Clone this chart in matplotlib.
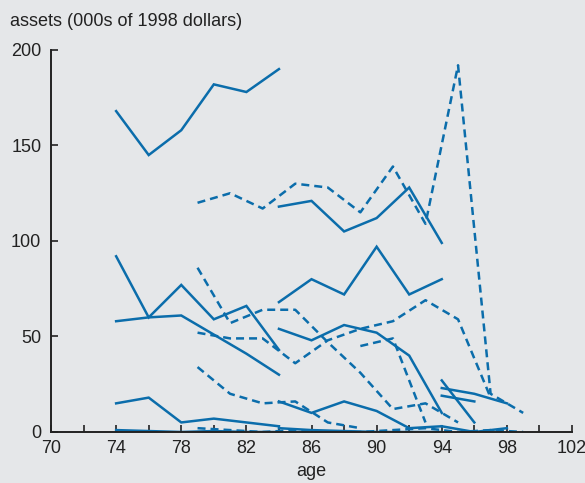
import matplotlib.pyplot as plt
import numpy as np

plt.rcParams['font.family'] = ['Liberation Sans', 'DejaVu Sans']

## Data
# solid lines: cohorts observed every two years at even ages
ages_74_84 = [74, 76, 78, 80, 82, 84]
ages_84_94 = [84, 86, 88, 90, 92, 94]
solid_a = [168, 145, 158, 182, 178, 190]
solid_b = [92, 60, 77, 59, 66, 43]
solid_c = [58, 60, 61, 51, 41, 30]
solid_d = [15, 18, 5, 7, 5, 3]
solid_e = [1, 0.5, 0, 0.5, 0, 0]
solid_f = [118, 121, 105, 112, 128, 99]
solid_g = [68, 80, 72, 97, 72, 80]
solid_h = [54, 48, 56, 52, 40, 10]
solid_i = [16, 10, 16, 11, 2, 3]
solid_j = [2, 1, 0.5, 0, 0, 0]
ages_94_98 = [94, 96, 98]
solid_k = [23, 20, 15]
solid_l = [3, 0, 2]
ages_94_96 = [94, 96]
solid_m = [19, 16]
solid_n = [27, 5]

# dashed lines: cohorts observed at odd ages
ages_79_99 = [79, 81, 83, 85, 87, 89, 91, 93, 95, 97, 99]
dashed_a = [120, 125, 117, 130, 128, 115, 139, 109, 192, 20, 10]
ages_79_97 = [79, 81, 83, 85, 87, 89, 91, 93, 95, 97]
dashed_b = [52, 49, 49, 36, 48, 54, 58, 69, 59, 18]
ages_79_95 = [79, 81, 83, 85, 87, 89, 91, 93, 95]
dashed_c = [86, 57, 64, 64, 47, 31, 12, 15, 5]
ages_79_89 = [79, 81, 83, 85, 87, 89]
dashed_d = [34, 20, 15, 16, 5, 2]
ages_89_93 = [89, 91, 93]
dashed_e = [45, 49, 5]
dashed_f = [2, 1, 0, 1, 0, 0, 1, 2, 0, 1, 0]

solid_series = [
    (ages_74_84, solid_a), (ages_74_84, solid_b), (ages_74_84, solid_c),
    (ages_74_84, solid_d), (ages_74_84, solid_e),
    (ages_84_94, solid_f), (ages_84_94, solid_g), (ages_84_94, solid_h),
    (ages_84_94, solid_i), (ages_84_94, solid_j),
    (ages_94_98, solid_k), (ages_94_98, solid_l),
    (ages_94_96, solid_m), (ages_94_96, solid_n),
]
dashed_series = [
    (ages_79_99, dashed_a), (ages_79_97, dashed_b), (ages_79_95, dashed_c),
    (ages_79_89, dashed_d), (ages_89_93, dashed_e), (ages_79_99, dashed_f),
]

BG = '#e5e7e9'
BLUE = '#0b6dab'

fig = plt.figure(figsize=(5.85, 4.83), dpi=100, facecolor=BG)
ax = fig.add_axes([0.0872, 0.1056, 0.8906, 0.7909], facecolor=BG)

for xs, ys in solid_series:
    ax.plot(xs, ys, color=BLUE, lw=1.8, solid_joinstyle='miter')
for xs, ys in dashed_series:
    ax.plot(xs, ys, color=BLUE, lw=1.8, linestyle=(0, (3.2, 2.0)))

ax.set_xlim(70, 102)
ax.set_ylim(0, 200)
ax.set_xticks(np.arange(70, 103, 2))
ax.set_xticklabels([str(t) if t % 4 == 2 else '' for t in range(70, 103, 2)])
ax.set_yticks([0, 50, 100, 150, 200])
ax.tick_params(direction='in', length=5, width=1.2, color='#222222',
               labelsize=13, labelcolor='#222222')
ax.tick_params(axis='x', pad=6)
ax.tick_params(axis='y', pad=7)
for s in ['top', 'right']:
    ax.spines[s].set_visible(False)
for s in ['left', 'bottom']:
    ax.spines[s].set_color('#222222')
    ax.spines[s].set_linewidth(1.4)

fig.text(10/585, 1 - 22/483, 'assets (000s of 1998 dollars)', fontsize=13,
         color='#222222', va='center', ha='left')
fig.text(311/585, 1 - 472/483, 'age', fontsize=13, color='#222222',
         va='center', ha='center')

fig.savefig('out.png', dpi=100, facecolor=BG)
